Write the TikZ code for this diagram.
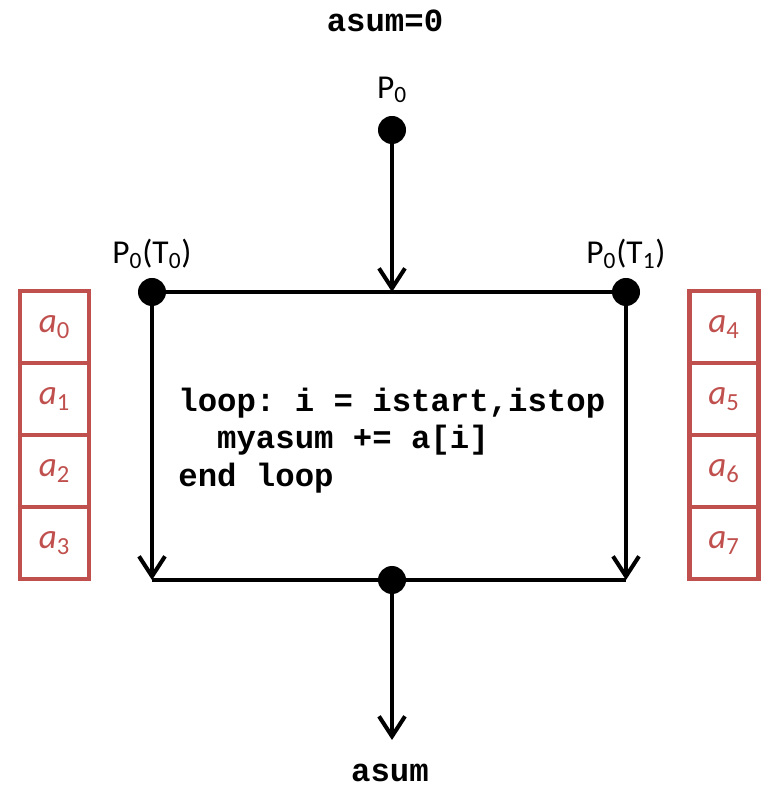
\documentclass[tikz,border=0pt]{standalone}
\usepackage{fontspec}
\setmainfont{Carlito}
\setmonofont{Liberation Mono}
\usetikzlibrary{arrows.meta}
\definecolor{cellred}{HTML}{C0504D}
\tikzset{
    dot/.style={circle, fill=black, inner sep=0pt, minimum size=0.56cm},
    flow/.style={line width=2.3pt},
    tip/.style={-{Straight Barb[length=0.4cm, width=0.52cm]}},
    cell/.style={rectangle, draw=cellred, line width=2.3pt, text=cellred, minimum width=1.38cm, minimum height=1.44cm, font=\fontsize{20}{24}\selectfont},
    label/.style={font=\fontsize{19}{23}\selectfont},
    code/.style={font=\fontsize{18.4}{21.3}\selectfont\ttfamily\bfseries}
}
\begin{document}
\begin{tikzpicture}
    \useasboundingbox (0,0) rectangle (15.26,15.78);
    \node (init) at (7.70, 15.36) [code] {asum=0};
    \node (p0) at (7.84, 13.18) [dot] {};
    \node (p0label) at (7.84, 13.98) [label] {P\textsubscript{0}};
    \node (t0) at (3.04, 9.94) [dot] {};
    \node (t1) at (12.52, 9.94) [dot] {};
    \node (t0label) at (3.04, 10.70) [label] {P\textsubscript{0}(T\textsubscript{0})};
    \node (t1label) at (12.52, 10.70) [label] {P\textsubscript{0}(T\textsubscript{1})};
    \node (join) at (7.84, 4.18) [dot] {};
    \coordinate (fork) at (7.84, 9.94);
    \coordinate (bl) at (3.04, 4.18);
    \coordinate (br) at (12.52, 4.18);
    \coordinate (out) at (7.84, 0.98);
    \node (result) at (7.80, 0.32) [code] {asum};
    \node (loop) at (3.56, 6.97) [code, anchor=west, align=left, inner sep=0pt] {loop: i = istart,istop\\\ \ myasum += a[i]\\end loop};
    % Array cells of each thread
    \node (a0) at (1.09, 9.24) [cell] {\textit{a}\textsubscript{0}};
    \node (a1) at (1.09, 7.80) [cell] {\textit{a}\textsubscript{1}};
    \node (a2) at (1.09, 6.36) [cell] {\textit{a}\textsubscript{2}};
    \node (a3) at (1.09, 4.92) [cell] {\textit{a}\textsubscript{3}};
    \node (a4) at (14.48, 9.24) [cell] {\textit{a}\textsubscript{4}};
    \node (a5) at (14.48, 7.80) [cell] {\textit{a}\textsubscript{5}};
    \node (a6) at (14.48, 6.36) [cell] {\textit{a}\textsubscript{6}};
    \node (a7) at (14.48, 4.92) [cell] {\textit{a}\textsubscript{7}};
    % Draw the fork and join
    \draw[flow, tip] (p0) -- (fork);
    \draw[flow] (t0) -- (t1);
    \draw[flow, tip] (t0) -- (bl);
    \draw[flow, tip] (t1) -- (br);
    \draw[flow] (bl) -- (br);
    \draw[flow, tip] (join) -- (out);
\end{tikzpicture}
\end{document}
